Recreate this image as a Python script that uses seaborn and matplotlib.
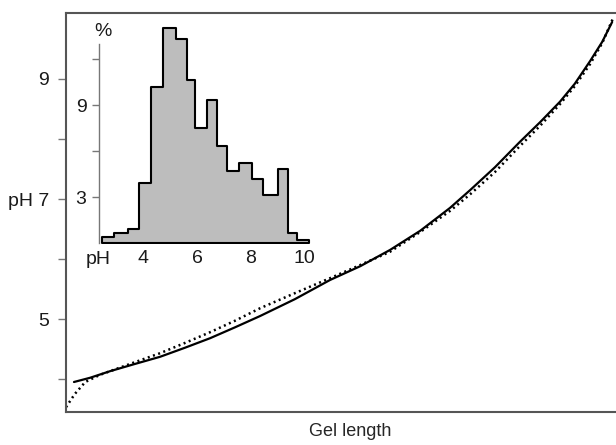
import numpy as np
import pandas as pd
import seaborn as sns
import matplotlib
matplotlib.use('Agg')
import matplotlib.pyplot as plt

# Curva principal: pH a lo largo del gel (longitud en % del gel)
gel_solid = [1.45, 4.36, 8.0, 12.5, 17.1, 21.6, 26.2, 30.7, 35.3, 41.6, 48.0, 53.5,
             58.9, 64.4, 69.8, 73.5, 78.0, 82.5, 86.2, 89.8, 92.5, 95.3, 97.5, 99.3]
ph_solid = [3.95, 4.02, 4.13, 4.25, 4.37, 4.52, 4.68, 4.86, 5.05, 5.33, 5.65, 5.88,
            6.15, 6.47, 6.85, 7.15, 7.53, 7.95, 8.28, 8.62, 8.92, 9.30, 9.62, 9.95]

gel_dotted = [0.0, 1.6, 3.5, 6.2, 11.6, 17.1, 21.6, 26.2, 30.7, 35.3, 41.6, 48.0, 53.5,
              58.9, 64.4, 69.8, 73.5, 78.0, 82.5, 86.2, 89.8, 92.5, 95.3, 97.5, 99.5]
ph_dotted = [3.53, 3.75, 3.95, 4.07, 4.25, 4.43, 4.60, 4.78, 4.97, 5.18, 5.43, 5.68, 5.90,
             6.12, 6.45, 6.80, 7.08, 7.45, 7.88, 8.22, 8.58, 8.88, 9.25, 9.60, 10.02]

# Histograma del recuadro (% por intervalo de pH)
hist_edges = [2.47, 2.92, 3.44, 3.85, 4.30, 4.75, 5.23, 5.64, 5.94, 6.39, 6.76,
              7.13, 7.58, 8.03, 8.44, 9.00, 9.37, 9.71, 10.16]
hist_pct = [0.4, 0.65, 0.9, 3.9, 10.2, 14.0, 13.3, 10.6, 7.5, 9.3, 6.3,
            4.7, 5.2, 4.2, 3.1, 4.8, 0.65, 0.2]

main_ticks = [5, 7, 9]
main_labels = ['5', 'pH 7', '9']
inset_xticks = [4, 6, 8, 10]
inset_yticks = [3, 9]

sns.set_style('ticks')
plt.rcParams['font.family'] = ['Liberation Sans', 'DejaVu Sans']
plt.rcParams['text.color'] = '#1a1a1a'
plt.rcParams['xtick.color'] = '#1a1a1a'
plt.rcParams['ytick.color'] = '#1a1a1a'

fig = plt.figure(figsize=(6.16, 4.45), dpi=100)
ax = fig.add_axes([66/616, 1-412/445, 550/616, 399/445])

df_s = pd.DataFrame({'gel': gel_solid, 'ph': ph_solid})
df_d = pd.DataFrame({'gel': gel_dotted, 'ph': ph_dotted})
sns.lineplot(x='gel', y='ph', data=df_s, ax=ax, color='black', linewidth=1.6, sort=False)
sns.lineplot(x='gel', y='ph', data=df_d, ax=ax, color='black', linewidth=1.8,
             linestyle=(0, (0.8, 1.4)), sort=False)

ax.set_xlim(0, 100)
ax.set_ylim(3.45, 10.1)
ax.set_xticks([])
ax.set_yticks(main_ticks)
ax.set_yticklabels(main_labels, fontsize=14)
ax.set_yticks([4, 6, 8], minor=True)
ax.tick_params(axis='y', which='both', length=6, width=1, color='#777777', pad=6)
ax.set_ylabel('')
ax.set_xlabel('Gel length', fontsize=13)
ax.xaxis.set_label_coords((350-66)/550, -0.028)
for s in ['left', 'top', 'bottom']:
    ax.spines[s].set_color('#555555')
    ax.spines[s].set_linewidth(1.5)
ax.spines['right'].set_visible(False)

# Recuadro con histograma
y_top = (243 - 25) / (92 / 6)
axin = fig.add_axes([99/616, 1-243/445, 211/616, 218/445])
centers = [(a + b) / 2 for a, b in zip(hist_edges[:-1], hist_edges[1:])]
sns.histplot(x=centers, weights=hist_pct, bins=hist_edges, element='step', fill=True,
             color='#bdbdbd', alpha=1, edgecolor='black', linewidth=1.5, ax=axin)
axin.set_xlim(2.36, 10.2)
axin.set_ylim(0, y_top)
axin.set_xticks(inset_xticks)
axin.set_xticklabels([str(t) for t in inset_xticks], fontsize=14)
axin.tick_params(axis='x', length=0, pad=5)
axin.set_yticks(inset_yticks)
axin.set_yticklabels([str(t) for t in inset_yticks], fontsize=14)
axin.set_yticks([6, 12], minor=True)
axin.tick_params(axis='y', which='both', length=5, width=1, color='#777777', pad=4)
axin.set_xlabel('')
axin.set_ylabel('')
axin.patch.set_alpha(0)
for s in ['top', 'right', 'bottom']:
    axin.spines[s].set_visible(False)
axin.spines['left'].set_color('#777777')
axin.spines['left'].set_linewidth(1)
axin.spines['left'].set_bounds(0, 13)
axin.text(103/616, 1-32/445, '%', transform=fig.transFigure, fontsize=14, ha='center', va='center')
axin.text(98/616, 1-259/445, 'pH', transform=fig.transFigure, fontsize=14, ha='center', va='center')

fig.savefig('out.png', dpi=100)
